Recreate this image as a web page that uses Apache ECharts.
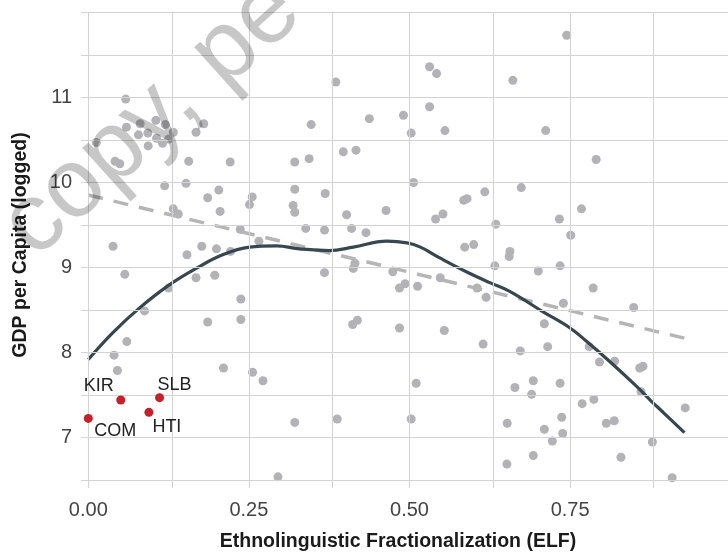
<!DOCTYPE html>
<html>
<head>
<meta charset="utf-8">
<script src="https://cdn.jsdelivr.net/npm/echarts@6/dist/echarts.min.js"></script>
<style>
html,body{margin:0;padding:0;background:#fff;}
#chart{width:728px;height:553px;}
</style>
</head>
<body>
<div id="chart"></div>
<script>
// ---- data ----
const elf = [
0.0125,0.0583,0.0594,0.0807,0.0781,0.0927,0.1052,0.1198,0.1323,0.1063,0.0932,0.1156,0.125,0.1677,0.1797,
0.0417,0.049,0.1563,0.2208,0.3214,0.1188,0.1521,0.1859,0.2031,0.2552,0.251,0.2052,0.1323,0.1401,0.3214,
0.3188,0.3214,0.2365,0.2656,0.0385,0.1536,0.1766,0.1995,0.2214,0.0568,0.1677,0.1969,0.125,0.0875,0.2375,
0.1859,0.2375,0.0599,0.0401,0.0453,0.2104,0.2557,0.2719,0.3214,0.2953,
0.3854,0.5313,0.5422,0.6609,0.3469,0.4375,0.4906,0.5313,0.5026,0.5552,0.3438,0.3969,0.4167,0.5063,0.3688,
0.6172,0.5844,0.5896,0.4021,0.4635,0.5406,0.5521,0.6344,0.3385,0.3677,0.4099,0.4323,0.3677,0.4125,0.4151,
0.474,0.4844,0.4932,0.5125,0.5479,0.586,0.6,0.6052,0.6193,0.6328,0.6563,0.6552,0.4115,0.4188,0.4844,
0.5542,0.6146,0.5104,0.6641,0.3875,0.5026,0.6521,0.6516,
0.7448,0.712,0.7906,0.674,0.7677,0.7333,0.751,0.7005,0.7344,0.7859,0.7396,0.849,0.7099,0.7151,0.6724,
0.7797,0.7958,0.8193,0.8583,0.8635,0.8604,0.6927,0.7344,0.6901,0.7688,0.787,0.737,0.8063,0.8188,0.9292,
0.7099,0.7224,0.7385,0.8781,0.6927,0.8292,0.9089
];
const gdp = [
10.47,10.98,10.65,10.69,10.56,10.58,10.73,10.68,10.59,10.52,10.43,10.46,10.51,10.59,10.69,
10.25,10.22,10.25,10.24,10.24,9.96,9.99,9.82,9.91,9.83,9.74,9.66,9.69,9.63,9.92,
9.73,9.65,9.45,9.31,9.25,9.15,9.25,9.22,9.19,8.92,8.88,8.91,8.76,8.49,8.63,
8.36,8.39,8.13,7.97,7.79,7.82,7.77,7.67,7.18,6.54,
11.18,11.36,11.28,11.20,10.68,10.75,10.79,10.89,10.58,10.61,10.28,10.36,10.38,10.00,9.87,
9.89,9.79,9.81,9.62,9.67,9.57,9.63,9.51,9.46,9.44,9.46,9.41,8.94,8.99,9.05,
8.95,8.76,8.81,8.78,8.88,9.24,9.27,8.76,8.65,9.02,9.19,9.13,8.33,8.38,8.29,
8.26,8.10,7.64,7.59,7.22,7.22,7.17,6.69,
11.73,10.61,10.27,9.94,9.69,9.57,9.38,8.96,9.02,8.76,8.58,8.53,8.34,8.07,8.02,
8.07,7.89,7.90,7.82,7.84,7.54,7.67,7.64,7.51,7.40,7.45,7.24,7.17,7.20,7.35,
7.10,6.96,7.05,6.95,6.79,6.77,6.53
];
const labCodes = ['COM','KIR','HTI','SLB'];
const labElf = [0.0, 0.0505, 0.0943, 0.1109];
const labGdp = [7.227, 7.443, 7.298, 7.471];
const fitX = [0, 0.929];
const fitY = [9.852, 8.168];
const smoothX = [0,0.0375,0.079,0.125,0.168,0.209,0.251,0.293,0.329,0.375,0.4125,0.4646,0.496,0.517,0.548,0.59,0.626,0.656,0.708,0.75,0.776,0.8125,0.854,0.875,0.896,0.928];
const smoothY = [7.92,8.23,8.52,8.79,8.99,9.15,9.24,9.255,9.22,9.20,9.24,9.31,9.29,9.24,9.11,8.945,8.82,8.72,8.48,8.29,8.13,7.89,7.60,7.44,7.29,7.06];
const xTicks = [0, 0.25, 0.5, 0.75];
const yTicks = [7, 8, 9, 10, 11];
const xGrid = [0, 0.125, 0.25, 0.375, 0.5, 0.625, 0.75, 0.875];
const yGrid = [6.5, 7, 7.5, 8, 8.5, 9, 9.5, 10, 10.5, 11, 11.5, 12];
const xTitle = 'Ethnolinguistic Fractionalization (ELF)';
const yTitle = 'GDP per Capita (logged)';
const watermark = 'copy, pe';

// ---- layout / style (not data) ----
const FONT = '"Liberation Sans", Arial, Helvetica, sans-serif';
const labelOffsets = {COM:[27,13], KIR:[-22,-14], HTI:[18,15], SLB:[15,-13]};

const zip = (a,b) => a.map((v,i) => [v, b[i]]);

const chart = echarts.init(document.getElementById('chart'), null, {renderer:'canvas'});
chart.setOption({
  animation: false,
  backgroundColor: '#ffffff',
  textStyle: {fontFamily: FONT},
  grid: {left: 81, right: 0, top: 12, bottom: 65, containLabel: false, outerBoundsMode: 'none'},
  xAxis: {
    type: 'value', min: -0.01136, max: 0.9958,
    axisLine: {show:false}, axisTick: {show:false}, splitLine: {show:false},
    axisLabel: {customValues: xTicks, formatter: v => v.toFixed(2), fontSize: 20, color: '#444', margin: 12, fontFamily: FONT},
    name: xTitle, nameLocation: 'middle', nameGap: 44,
    nameTextStyle: {fontSize: 19.5, fontWeight: 'bold', color: '#1a1a1a', fontFamily: FONT, padding: [0, 13, 0, 0]}
  },
  yAxis: {
    type: 'value', min: 6.409, max: 12.0035,
    axisLine: {show:false}, axisTick: {show:false}, splitLine: {show:false},
    axisLabel: {customValues: yTicks, formatter: v => String(v), fontSize: 20, color: '#444', margin: 9, fontFamily: FONT},
    name: yTitle, nameLocation: 'middle', nameRotate: 90, nameGap: 50,
    nameTextStyle: {fontSize: 19.5, fontWeight: 'bold', color: '#1a1a1a', fontFamily: FONT, padding: [0, 0, 0, 10]}
  },
  series: [
    {
      type: 'scatter', data: [], silent: true, z: 0,
      markLine: {
        silent: true, symbol: ['none','none'], label: {show:false}, animation: false,
        lineStyle: {color: '#d3d3d3', width: 1.1, type: 'solid'},
        emphasis: {disabled: true},
        data: xGrid.map(v => ({xAxis: v})).concat(yGrid.map(v => ({yAxis: v})))
      }
    },
    {
      type: 'scatter', data: zip(elf, gdp), symbolSize: 9, z: 2,
      itemStyle: {color: '#b3b3b7', opacity: 1}
    },
    {
      type: 'line', data: zip(fitX, fitY), showSymbol: false, z: 3,
      lineStyle: {color: '#b5b5b5', width: 3.5, type: [15, 11]}
    },
    {
      type: 'line', data: zip(smoothX, smoothY), showSymbol: false, smooth: 0.4, z: 4,
      lineStyle: {color: '#364750', width: 3.2}
    },
    {
      type: 'scatter', z: 5, symbolSize: 9,
      itemStyle: {color: '#c5202b', opacity: 1},
      data: labCodes.map((c, i) => ({
        name: c, value: [labElf[i], labGdp[i]],
        label: {show: true, formatter: c, position: 'inside', offset: labelOffsets[c],
                align: 'center', verticalAlign: 'middle', fontSize: 18, color: '#222', fontFamily: FONT}
      }))
    }
  ],
  graphic: [{
    type: 'text', x: 17, y: 240, rotation: 42 * Math.PI / 180, z: 100, silent: true,
    style: {text: watermark, font: '98px ' + FONT, fill: 'rgba(0,0,0,0.22)', textAlign: 'left', textVerticalAlign: 'middle'}
  }]
});
</script>
</body>
</html>
